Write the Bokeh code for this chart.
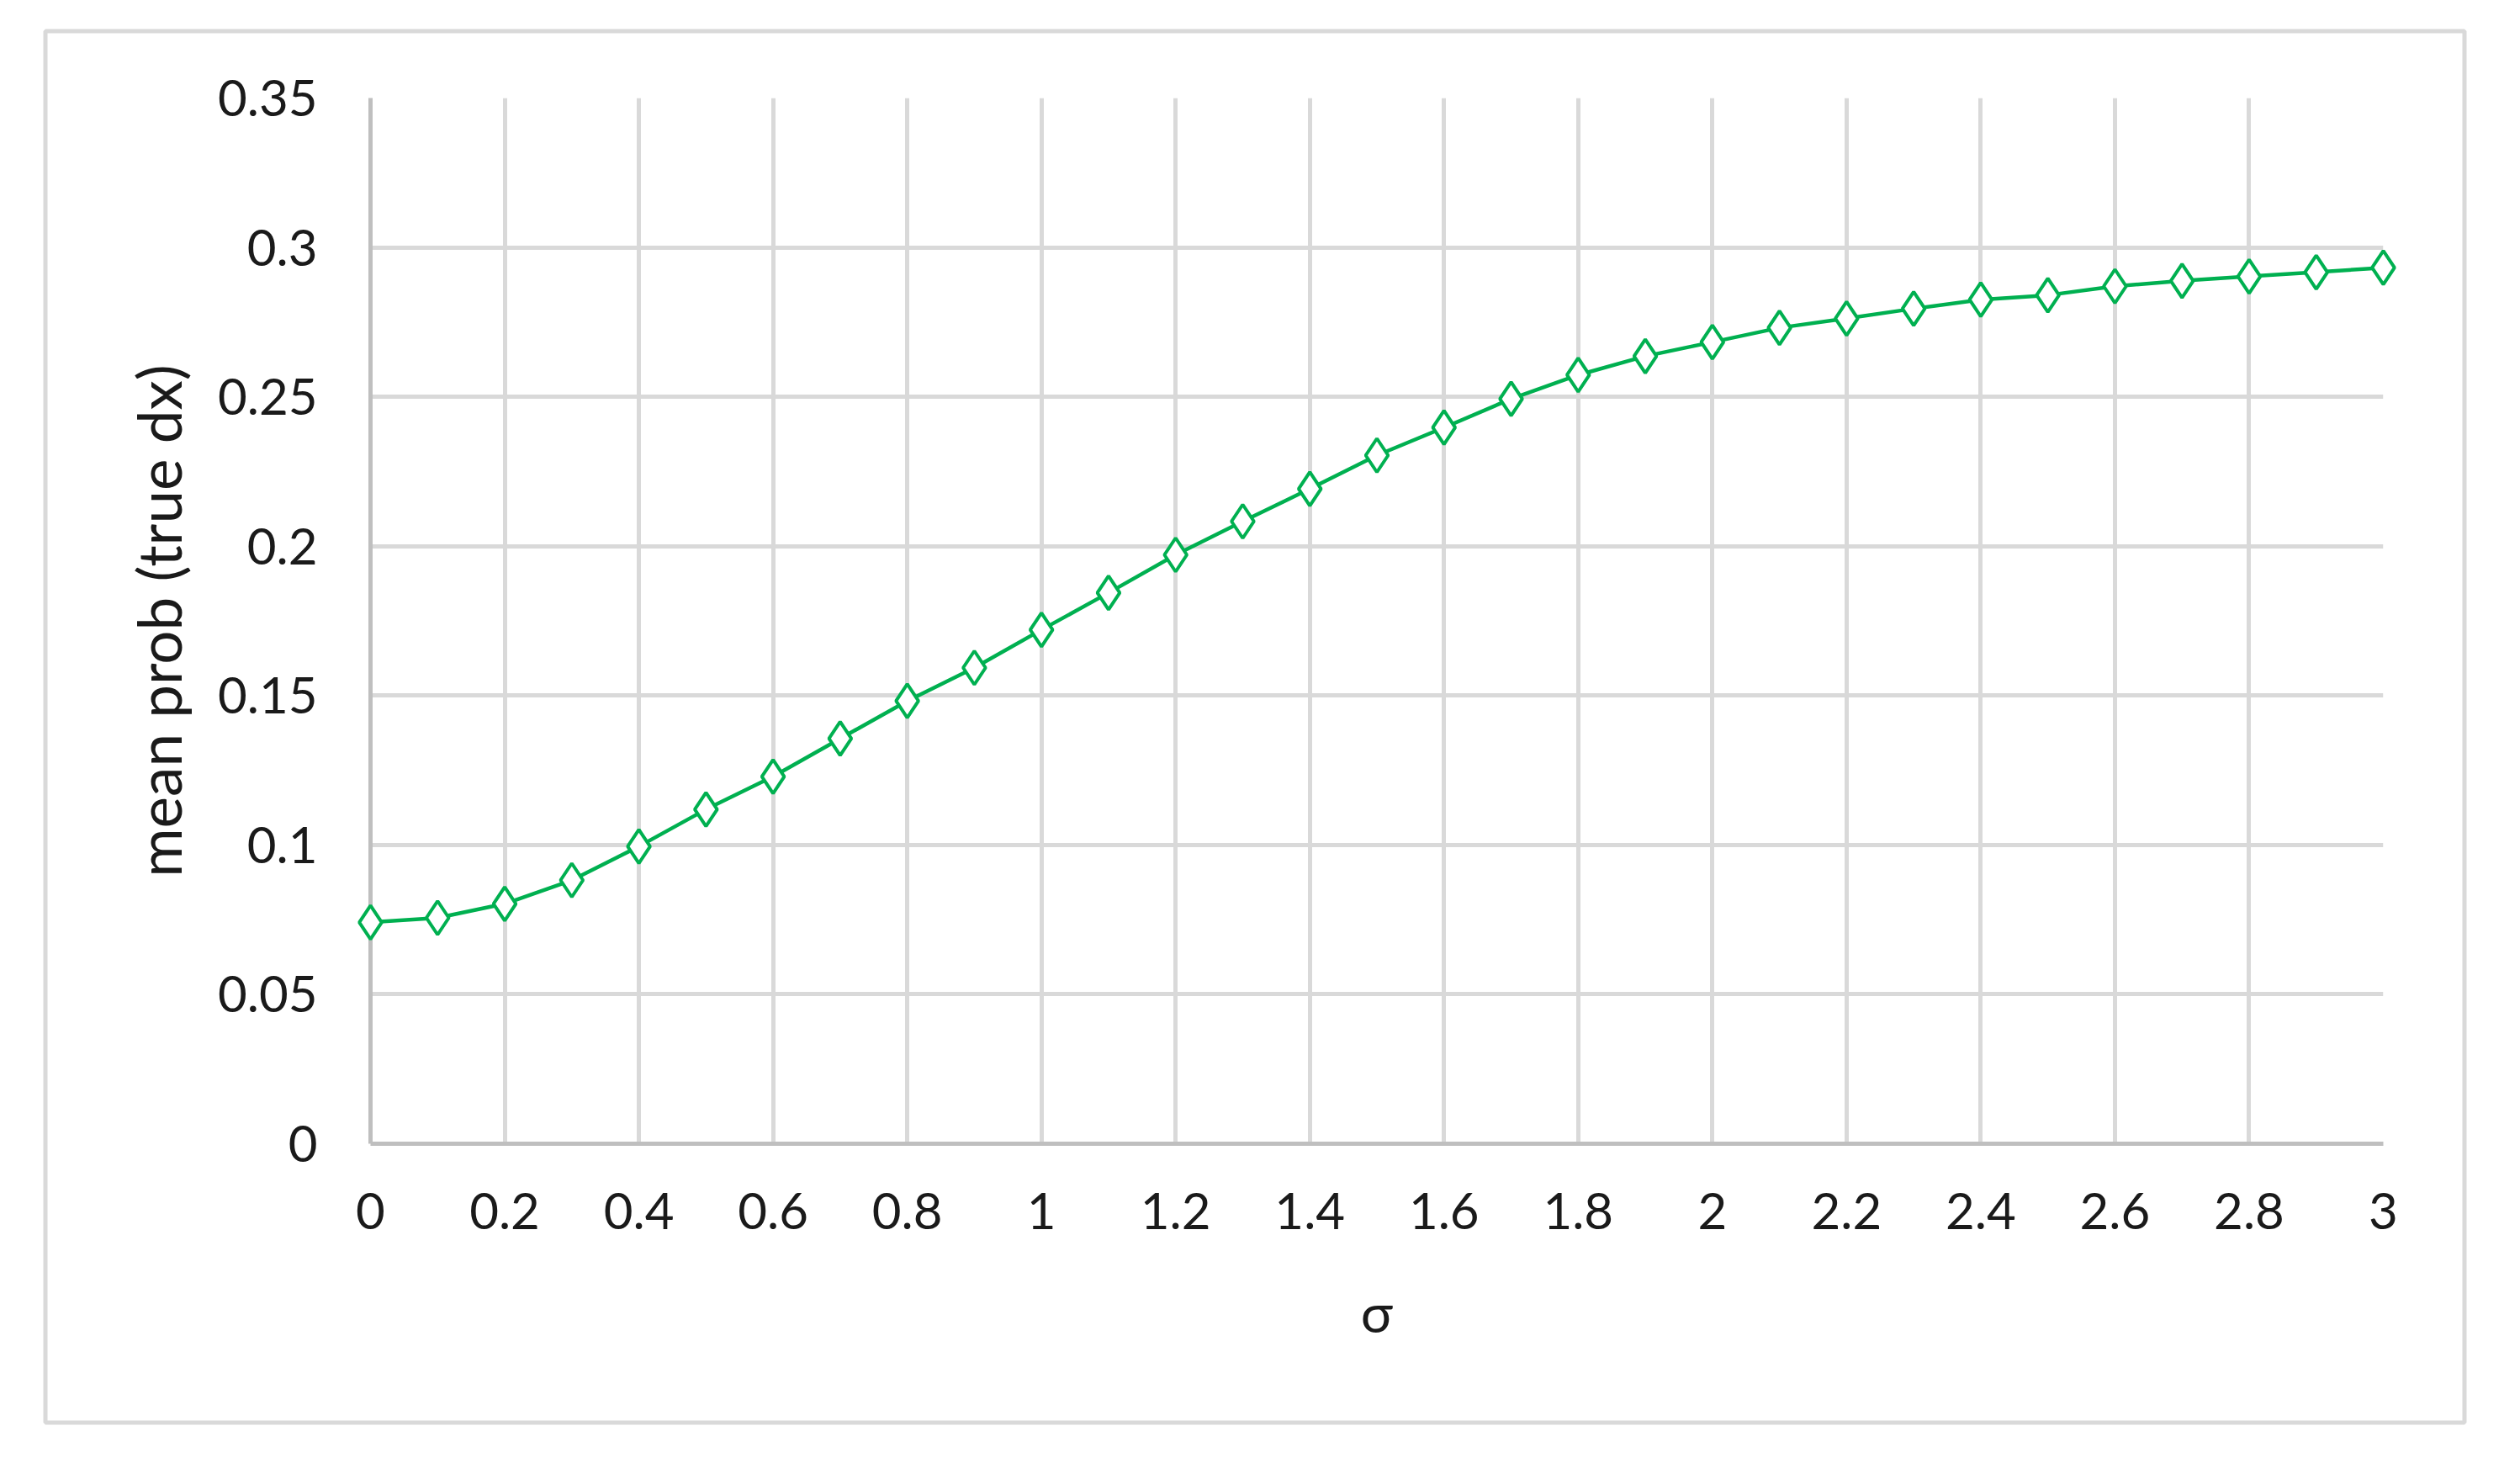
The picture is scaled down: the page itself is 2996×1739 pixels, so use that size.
from bokeh.plotting import figure
from bokeh.models import Range1d, FixedTicker, CustomJSTickFormatter, ColumnDataSource
from bokeh.embed import file_html
from bokeh.resources import INLINE

# ---- data ----
sigma = [0.0, 0.1, 0.2, 0.3, 0.4, 0.5, 0.6, 0.7, 0.8, 0.9,
         1.0, 1.1, 1.2, 1.3, 1.4, 1.5, 1.6, 1.7, 1.8, 1.9,
         2.0, 2.1, 2.2, 2.3, 2.4, 2.5, 2.6, 2.7, 2.8, 2.9, 3.0]
mean_prob = [0.0741, 0.0756, 0.0803, 0.0882, 0.0995, 0.1119, 0.1229, 0.1356, 0.1482, 0.1593,
             0.1720, 0.1844, 0.1971, 0.2083, 0.2192, 0.2304, 0.2397, 0.2493, 0.2573, 0.2636,
             0.2683, 0.2731, 0.2762, 0.2795, 0.2825, 0.2840, 0.2870, 0.2888, 0.2903, 0.2917, 0.2932]
x_ticks = [0, 0.2, 0.4, 0.6, 0.8, 1, 1.2, 1.4, 1.6, 1.8, 2, 2.2, 2.4, 2.6, 2.8, 3]
y_ticks = [0, 0.05, 0.1, 0.15, 0.2, 0.25, 0.3, 0.35]
x_label = "σ"
y_label = "mean prob (true dx)"

FONT = "Lato"
TEXT = "#1a1a1a"
GREEN = "#00B050"
GRID = "#d9d9d9"
AXIS = "#bfbfbf"

W, H = 2940, 1700
FRAME_L, FRAME_R, FRAME_T, FRAME_B = 440, 2833, 116, 1359

src = ColumnDataSource(dict(x=sigma, y=mean_prob))

p = figure(width=W, height=H, output_backend="svg", toolbar_location=None,
           x_range=Range1d(0, 3), y_range=Range1d(0, 0.35),
           min_border_left=FRAME_L, min_border_right=W - FRAME_R,
           min_border_top=FRAME_T, min_border_bottom=H - FRAME_B)
p.outline_line_color = None
p.background_fill_color = "white"
p.border_fill_color = "white"

# pixel-coordinate ranges, used only for the outer chart-area border
p.extra_x_ranges = {"px": Range1d(FRAME_L, FRAME_R)}
p.extra_y_ranges = {"py": Range1d(FRAME_B, FRAME_T)}
p.quad(left=[53.5], right=[2929.5], top=[36.5], bottom=[1690.5],
       x_range_name="px", y_range_name="py",
       fill_color=None, line_color=GRID, line_width=5, level="overlay")

fmt = CustomJSTickFormatter(code="return String(parseFloat(tick.toFixed(3)));")

p.xaxis.ticker = FixedTicker(ticks=x_ticks)
p.yaxis.ticker = FixedTicker(ticks=y_ticks)
for ax in (p.xaxis[0], p.yaxis[0]):
    ax.formatter = fmt
    ax.major_tick_line_color = None
    ax.minor_tick_line_color = None
    ax.major_tick_out = 0
    ax.major_tick_in = 0
    ax.axis_line_color = AXIS
    ax.axis_line_width = 5
    ax.major_label_text_font = FONT
    ax.major_label_text_font_size = "60px"
    ax.major_label_text_color = TEXT
    ax.axis_label_text_font = FONT
    ax.axis_label_text_color = TEXT
    ax.axis_label_text_font_style = "normal"

p.xaxis.axis_label = x_label
p.yaxis.axis_label = y_label
p.xaxis.major_label_standoff = 58
p.yaxis.major_label_standoff = 63
p.xaxis.axis_label_text_font_size = "64px"
p.yaxis.axis_label_text_font_size = "71px"
p.xaxis.axis_label_standoff = 57
p.yaxis.axis_label_standoff = 25

p.xgrid.ticker = FixedTicker(ticks=x_ticks)
p.ygrid.ticker = FixedTicker(ticks=y_ticks)
for g in (p.xgrid[0], p.ygrid[0]):
    g.grid_line_color = GRID
    g.grid_line_width = 5

p.line("x", "y", source=src, line_color=GREEN, line_width=4.5, level="overlay")
p.scatter("x", "y", source=src, marker="diamond", size=40,
          fill_color="white", line_color=GREEN, line_width=4, level="overlay")

open("out.html", "w").write(file_html(p, INLINE))
